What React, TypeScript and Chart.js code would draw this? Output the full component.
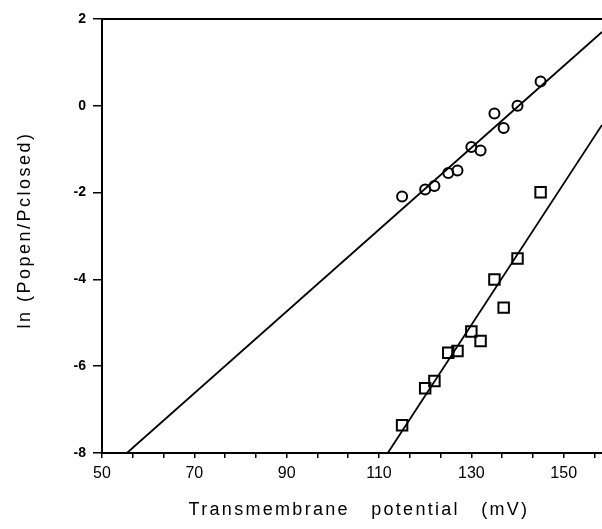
import React, { useEffect, useRef } from 'react';
import { Chart, registerables } from 'chart.js';

Chart.register(...registerables);

// Transmembrane potential (mV) at which each point was measured
const potentials = [115, 120, 122, 125, 127, 130, 132, 135, 137, 140, 145];
// ln(Popen/Pclosed), circles (upper series)
const circleValues = [-2.09, -1.93, -1.85, -1.55, -1.49, -0.95, -1.03, -0.18, -0.51, 0.0, 0.56];
// ln(Popen/Pclosed), squares (lower series)
const squareValues = [-7.36, -6.51, -6.34, -5.69, -5.65, -5.2, -5.42, -4.0, -4.65, -3.52, -1.99];

// Fitted regression lines (end points)
const circleFitX = [55.4, 158.3];
const circleFitY = [-8, 1.7];
const squareFitX = [111.9, 158.3];
const squareFitY = [-8, -0.44];

// Axes
const xMin = 50;
const xMax = 158.3;
const xLabelValues = [50, 70, 90, 110, 130, 150];
const xMinorStep = 20 / 3;
const yMin = -8;
const yMax = 2;
const yStep = 2;

const FONT = "'Liberation Sans', Arial, Helvetica, sans-serif";

function patchTitle(scale: any, letter: string, word: string, dx: number, dy: number) {
  if (scale.__titlePatched) return;
  const orig = scale.drawTitle.bind(scale);
  scale.drawTitle = function () {
    const c = scale.ctx;
    c.save();
    c.letterSpacing = letter;
    c.wordSpacing = word;
    c.translate(dx, dy);
    orig();
    c.letterSpacing = '0px';
    c.wordSpacing = '0px';
    c.restore();
  };
  scale.__titlePatched = true;
}

export default function App() {
  const canvasRef = useRef<HTMLCanvasElement | null>(null);

  useEffect(() => {
    const canvas = canvasRef.current;
    if (!canvas) return;
    // software-rendered 2D context (created before Chart.js asks for it)
    canvas.getContext('2d', { willReadFrequently: true } as any);

    const xTickValues: number[] = [];
    for (let v = xMin; v <= xMax + 1e-9; v += xMinorStep) xTickValues.push(v);

    const chart = new Chart(canvas, {
      type: 'scatter',
      data: {
        datasets: [
          { label: 'circle fit', data: circleFitX.map((x, i) => ({ x, y: circleFitY[i] })), showLine: true, borderColor: '#000', borderWidth: 1.8, pointRadius: 0 },
          { label: 'square fit', data: squareFitX.map((x, i) => ({ x, y: squareFitY[i] })), showLine: true, borderColor: '#000', borderWidth: 1.8, pointRadius: 0 },
          { label: 'circles', data: potentials.map((x, i) => ({ x, y: circleValues[i] })), pointStyle: 'circle', pointRadius: 5, pointBorderWidth: 2, pointBorderColor: '#000', pointBackgroundColor: 'rgba(0,0,0,0)', showLine: false },
          { label: 'squares', data: potentials.map((x, i) => ({ x, y: squareValues[i] })), pointStyle: 'rect', pointRadius: 7.4, pointBorderWidth: 2, pointBorderColor: '#000', pointBackgroundColor: 'rgba(0,0,0,0)', showLine: false },
        ],
      },
      options: {
        animation: false,
        responsive: false,
        maintainAspectRatio: false,
        layout: { autoPadding: false, padding: { top: 19, left: 0, right: 0, bottom: 0 } },
        plugins: { legend: { display: false }, tooltip: { enabled: false } },
        scales: {
          x: {
            type: 'linear', position: 'bottom', min: xMin, max: xMax,
            afterBuildTicks: (scale: any) => { scale.ticks = xTickValues.map((v) => ({ value: v })); },
            afterFit: (scale: any) => { scale.height = 76; scale.paddingLeft = 0; scale.paddingRight = 0; patchTitle(scale, '2.3px', '14px', 7, 0); },
            ticks: {
              autoSkip: false, maxRotation: 0, color: '#000', padding: 6, font: { family: FONT, size: 16 },
              callback: (value: any) => { const r = Math.round(Number(value)); return Math.abs(Number(value) - r) < 1e-6 && xLabelValues.includes(r) ? String(r) : ''; },
            },
            grid: { display: true, drawOnChartArea: false, drawTicks: true, tickLength: 5, color: '#000', lineWidth: 1.5 },
            border: { display: true, color: '#000', width: 2 },
            title: { display: true, text: 'Transmembrane potential (mV)', color: '#000', font: { family: FONT, size: 18 }, padding: { top: 0, bottom: 8 } },
          },
          xTop: {
            type: 'linear', position: 'top', min: xMin, max: xMax,
            ticks: { display: false }, grid: { display: false, drawTicks: false },
            border: { display: true, color: '#000', width: 2 },
            afterFit: (scale: any) => { scale.height = 0; scale.paddingLeft = 0; scale.paddingRight = 0; },
          },
          y: {
            type: 'linear', position: 'left', min: yMin, max: yMax,
            afterFit: (scale: any) => { scale.width = 102; scale.paddingTop = 0; scale.paddingBottom = 0; patchTitle(scale, '2.5px', '0px', 0, -6); },
            ticks: { stepSize: yStep, color: '#000', padding: 7, font: { family: FONT, size: 14, weight: 'bold' } },
            grid: { display: true, drawOnChartArea: false, drawTicks: true, tickLength: 9, color: '#000', lineWidth: 1.5 },
            border: { display: true, color: '#000', width: 2 },
            title: { display: true, text: 'ln (Popen/Pclosed)', color: '#000', font: { family: FONT, size: 18 }, padding: { top: 14, bottom: 0 } },
          },
        },
      },
    } as any);

    return () => {
      chart.destroy();
    };
  }, []);

  return (
    <div style={{ position: 'fixed', left: 0, top: 0, width: 602, height: 529, background: '#fff' }}>
      <canvas ref={canvasRef} width={602} height={529} style={{ display: 'block' }} />
    </div>
  );
}
